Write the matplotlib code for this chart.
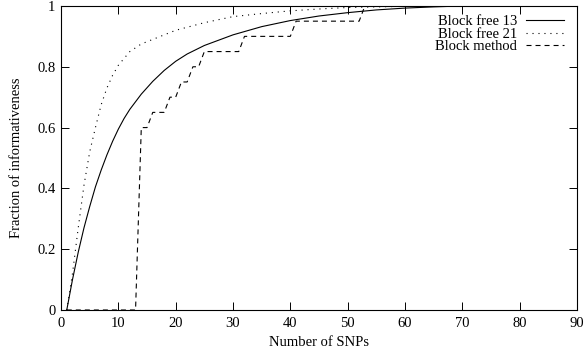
"""Fraction of informativeness vs number of SNPs."""

# -- Imports -----------------------------------------------------------------
import matplotlib
matplotlib.use('Agg')
import matplotlib.pyplot as plt
from matplotlib.ticker import MultipleLocator, FuncFormatter

# -- Data ----------------------------------------------------------------------
free13_x = [1, 2, 3, 4, 5, 6, 7, 8, 9, 10, 11, 12, 14, 16, 18, 20, 22, 25,
            30, 35, 40, 45, 50, 55, 60, 65, 70, 88]
free13_y = [0, 0.1, 0.19, 0.27, 0.34, 0.405, 0.46, 0.51, 0.555, 0.595, 0.63,
            0.66, 0.71, 0.752, 0.788, 0.818, 0.842, 0.87, 0.905, 0.932, 0.952,
            0.967, 0.978, 0.987, 0.993, 0.997, 1.0, 1.0]

free21_x = [1, 2, 3, 4, 5, 6, 7, 8, 9, 10, 12, 14, 16, 18, 20, 25, 30, 35,
            40, 45, 50, 60, 70, 88]
free21_y = [0, 0.12, 0.27, 0.41, 0.52, 0.6, 0.675, 0.73, 0.772, 0.805, 0.85,
            0.875, 0.89, 0.905, 0.92, 0.945, 0.965, 0.975, 0.984, 0.99, 0.995,
            0.999, 1.0, 1.0]

block_x = [1, 13, 14, 15, 16, 18, 19, 20, 21, 22, 23, 24, 25, 31, 32, 40, 41,
           52, 53, 88]
block_y = [0, 0, 0.6, 0.6, 0.65, 0.65, 0.7, 0.7, 0.75, 0.75, 0.8, 0.8, 0.85,
           0.85, 0.9, 0.9, 0.95, 0.95, 1.0, 1.0]

labels = ['Block free 13', 'Block free 21', 'Block method']

# -- Style ---------------------------------------------------------------------
plt.rcParams['font.family'] = ['Liberation Serif', 'DejaVu Serif']
plt.rcParams['font.size'] = 10.5
plt.rcParams['lines.scale_dashes'] = False

fig = plt.figure(figsize=(5.84, 3.51), dpi=100)
ax = fig.add_axes([0.1045, 0.1168, 0.8835, 0.8662])

lw = 0.8
ax.plot(free13_x, free13_y, color='black', lw=lw, ls='-', label=labels[0])
ax.plot(free21_x, free21_y, color='black', lw=lw, ls=(0, (0.8, 3.5)),
        label=labels[1])
ax.plot(block_x, block_y, color='black', lw=lw, ls=(0, (3.6, 2.9)),
        label=labels[2])

ax.set_xlim(0, 90)
ax.set_ylim(0, 1)
ax.xaxis.set_major_locator(MultipleLocator(10))
ax.yaxis.set_major_locator(MultipleLocator(0.2))
ax.yaxis.set_major_formatter(FuncFormatter(lambda v, p: '%g' % round(v, 2)))

ax.tick_params(direction='in', length=5.8, width=0.7, top=True, right=True,
               labelsize=10.5)
ax.tick_params(axis='x', pad=5)
ax.tick_params(axis='y', pad=4)
for sp in ax.spines.values():
    sp.set_linewidth(0.8)

ax.set_xlabel('Number of SNPs', labelpad=4)
ax.set_ylabel('Fraction of informativeness', labelpad=10)

# gnuplot-style key: text right-aligned, sample on the right
ax.legend(loc='upper right', bbox_to_anchor=(1.0, 1.013), frameon=False,
          markerfirst=False, handlelength=2.6, handletextpad=0.6,
          labelspacing=-0.05, borderaxespad=0.5, borderpad=0.4,
          fontsize=10.5)

fig.savefig('out.png', dpi=100)
